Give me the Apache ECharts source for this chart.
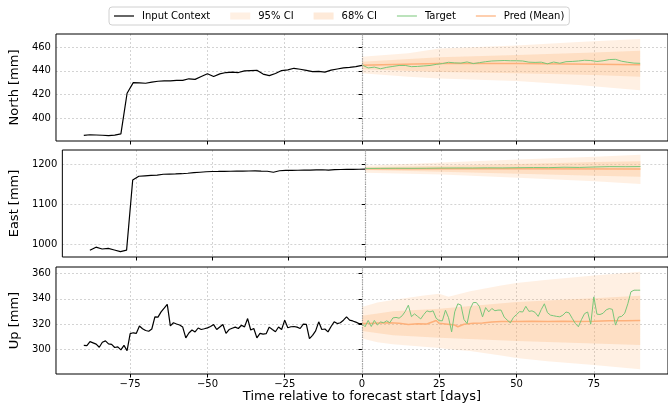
<!DOCTYPE html>
<html>
<head>
<meta charset="utf-8">
<script src="https://cdn.jsdelivr.net/npm/echarts@6.0.0/dist/echarts.min.js"></script>
<style>
  html, body { margin: 0; padding: 0; background: #fff; }
  #chart { width: 668px; height: 405px; }
</style>
</head>
<body>
<div id="chart"></div>
<script>
// ---- data ----
const xTicks = [-75, -50, -25, 0, 25, 50, 75];

function range(a, b, step) {
  const out = [];
  for (let v = a; v <= b; v += step) out.push(v);
  return out;
}
const ctxDays2 = range(-90, 0, 2);
const ctxDays1 = range(-90, 0, 1);
const tgtDays2 = range(0, 90, 2);
const tgtDays5 = range(0, 90, 5);
const tgtDays1 = range(0, 90, 1);

// North
const northCtx = [385.2, 385.8, 385.6, 385.4, 385.0, 385.5, 386.5, 421.0, 430.0, 429.8, 429.5, 430.5, 431.2, 431.5, 431.6, 432.0,
  432.0, 433.3, 432.8, 435.2, 437.6, 435.2, 437.5, 438.6, 439.0, 438.6, 440.0, 440.3, 440.5, 437.3, 436.0, 437.8, 440.3, 440.8,
  442.2, 441.4, 440.4, 439.4, 439.6, 438.9, 440.6, 441.6, 442.6, 443.0, 443.6, 444.7];
const northTgt = [445.0, 442.5, 443.2, 441.8, 443.0, 443.8, 444.6, 444.6, 443.6, 443.8, 444.2, 444.6, 445.5, 446.2, 447.3, 446.8,
  446.6, 447.6, 446.2, 447.0, 447.8, 448.4, 448.6, 448.8, 448.6, 448.6, 448.4, 447.4, 447.2, 447.4, 446.0, 447.5, 446.5, 447.8,
  448.0, 448.4, 449.0, 448.8, 448.0, 448.6, 449.6, 449.8, 448.2, 447.3, 446.6, 446.4];
const northMeanDays = [0, 10, 25, 50, 75, 90];
const northMean = [444.8, 445.5, 446.2, 446.2, 445.6, 445.2];
const north95Days = [0, 15, 25, 50, 70, 90];
const north95Hi = [452.0, 455.0, 459.0, 461.5, 464.5, 467.0];
const north95Lo = [437.9, 435.0, 433.5, 431.5, 428.0, 423.5];
const north68Days = [0, 25, 50, 75, 90];
const north68Hi = [447.8, 451.5, 453.5, 455.5, 457.0];
const north68Lo = [441.4, 439.0, 438.0, 436.5, 435.0];

// East
const eastCtx = [985, 992.5, 988, 989.5, 985.5, 981.5, 985, 1160, 1169.5, 1170.5, 1171.5, 1172.5, 1174.5, 1175, 1175.3, 1175.8,
  1177, 1178.3, 1179.5, 1180.7, 1181.3, 1181.5, 1181.8, 1182, 1182.3, 1182.5, 1182.6, 1182.7, 1182.3, 1182, 1179.5, 1183.2,
  1184, 1184.2, 1184.5, 1184.8, 1185, 1185.4, 1185.7, 1185, 1186, 1186.4, 1186.6, 1186.8, 1187, 1187.3];
const eastTgt = [1189, 1189.3, 1189.5, 1189.4, 1189.6, 1190, 1190.2, 1190.1, 1190.5, 1190.3, 1190.8, 1191.2, 1191, 1192,
  1191.5, 1192.6, 1193.5, 1193.3, 1193.6];
const eastMeanDays = [0, 45, 90];
const eastMean = [1188.5, 1188.3, 1187.5];
const east95Days = [0, 25, 50, 75, 90];
const east95Hi = [1196, 1204, 1211, 1218, 1223];
const east95Lo = [1178, 1174, 1166, 1157, 1150];
const east68Days = [0, 25, 50, 75, 90];
const east68Hi = [1192, 1196, 1200, 1205, 1207];
const east68Lo = [1185, 1181, 1176, 1171, 1168];

// Up
const upCtx = [303.0, 302.8, 306.0, 305.0, 304.0, 301.5, 305.5, 306.6, 304.2, 303.8, 301.3, 301.8, 299.4, 303.0, 298.8,
  312.4, 313.0, 312.6, 318.4, 316.2, 314.8, 314.2, 316.0, 325.6, 325.4, 329.6, 332.5, 335.6, 318.5, 321.0, 320.0, 319.2,
  317.5, 309.0, 312.8, 315.2, 313.7, 316.8, 315.6, 316.2, 316.9, 318.0, 319.5, 315.6, 317.6, 319.6, 312.5, 315.6, 316.6,
  317.5, 316.4, 319.0, 317.7, 324.3, 315.2, 316.4, 309.0, 312.5, 312.0, 312.3, 317.5, 315.6, 313.8, 317.6, 315.6, 323.0,
  317.0, 317.8, 318.0, 317.5, 316.4, 319.8, 319.6, 308.4, 311.0, 314.5, 321.7, 315.6, 316.0, 313.7, 318.0, 321.7, 320.3,
  321.0, 323.0, 325.6, 323.0, 322.4, 321.5, 320.3, 320.3];
const upTgt = [320.3, 317.8, 322.8, 318.0, 322.8, 319.2, 321.6, 321.0, 322.5, 321.0, 324.8, 325.2, 324.6, 326.5, 330.0,
  334.9, 325.8, 328.0, 326.0, 324.0, 327.5, 330.4, 329.6, 330.4, 324.5, 322.6, 322.5, 330.9, 325.0, 313.7, 329.6, 336.0,
  335.0, 323.5, 320.3, 332.0, 337.0, 337.0, 333.8, 325.6, 333.0, 329.6, 332.3, 330.5, 331.0, 331.0, 325.5, 323.0, 320.9,
  325.2, 327.5, 329.8, 329.5, 334.0, 330.0, 330.4, 329.2, 326.0, 331.5, 336.0, 329.0, 327.0, 326.5, 326.0, 325.7, 327.0,
  329.5, 328.8, 324.5, 320.5, 317.8, 323.4, 328.2, 329.5, 319.8, 341.5, 327.8, 327.5, 328.5, 331.2, 332.2, 331.6, 319.1,
  325.5, 326.0, 328.5, 336.0, 345.5, 346.8, 346.8, 346.8];
const upMeanDays = [0, 3, 6, 9, 12, 15, 18, 21, 24, 25, 27, 30, 31, 33, 36, 39, 42, 45, 50, 55, 60, 65, 70, 75, 80, 85, 90];
const upMean = [320.3, 320.5, 320.8, 321.0, 320.6, 319.5, 320.2, 320.0, 322.8, 320.5, 320.0, 319.2, 317.8, 319.8, 320.5,
  320.8, 321.5, 322.0, 322.0, 322.2, 322.0, 322.2, 322.0, 322.2, 322.5, 322.6, 322.8];
const up95Days = [0, 5, 10, 20, 25, 28, 35, 45, 50, 60, 75, 90];
const up95Hi = [333.5, 337.0, 339.0, 342.5, 344.0, 341.5, 346.0, 350.5, 352.5, 355.0, 358.5, 361.5];
const up95Lo = [308.5, 305.5, 304.0, 302.0, 301.0, 300.0, 298.5, 295.0, 293.0, 290.5, 287.5, 284.0];
const up68Days = [0, 10, 25, 50, 75, 90];
const up68Hi = [326.5, 330.0, 332.0, 337.5, 340.5, 342.3];
const up68Lo = [314.5, 311.0, 309.0, 306.5, 304.5, 303.3];

// ---- styles ----
const FONT = 'DejaVu Sans';
const C_CTX = '#000000';
const C_TGT = '#78c679';
const C_MEAN = '#fdb07a';
const C_95 = 'rgba(253,174,107,0.19)';
const C_68 = 'rgba(253,174,107,0.26)';

const panels = [
  { name: 'North [mm]', min: 380.5, max: 471.3, split: 5,
    ctxDays: ctxDays2, ctx: northCtx, tgtDays: tgtDays2, tgt: northTgt, meanDays: northMeanDays, mean: northMean,
    d95: north95Days, hi95: north95Hi, lo95: north95Lo, d68: north68Days, hi68: north68Hi, lo68: north68Lo },
  { name: 'East [mm]', min: 968, max: 1235, split: 3,
    ctxDays: ctxDays2, ctx: eastCtx, tgtDays: tgtDays5, tgt: eastTgt, meanDays: eastMeanDays, mean: eastMean,
    d95: east95Days, hi95: east95Hi, lo95: east95Lo, d68: east68Days, hi68: east68Hi, lo68: east68Lo },
  { name: 'Up [mm]', min: 280.3, max: 365.2, split: 5,
    ctxDays: ctxDays1, ctx: upCtx, tgtDays: tgtDays1, tgt: upTgt, meanDays: upMeanDays, mean: upMean,
    d95: up95Days, hi95: up95Hi, lo95: up95Lo, d68: up68Days, hi68: up68Hi, lo68: up68Lo }
];

const zip = (xs, ys) => xs.map((x, i) => [x, ys[i]]);
const minus = v => (v < 0 ? '\u2212' + Math.abs(v) : String(v));

// shaded interval drawn as one polygon through the axis scales
function bandSeries(i, name, days, lo, hi, color, z) {
  return {
    type: 'custom', name: name, xAxisIndex: i, yAxisIndex: i, silent: true, z: z, animation: false,
    itemStyle: { color: color },
    data: days.map((d, k) => [d, lo[k], hi[k]]),
    encode: { x: 0, y: [1, 2] },
    renderItem: function (params, api) {
      if (params.dataIndex !== 0) return null;
      const pts = [];
      days.forEach((d, k) => pts.push(api.coord([d, hi[k]])));
      for (let k = days.length - 1; k >= 0; k--) pts.push(api.coord([days[k], lo[k]]));
      return { type: 'polygon', shape: { points: pts }, style: { fill: color } };
    }
  };
}

const grids = [], xAxes = [], yAxes = [], series = [];
const tops = [34, 150, 267];

panels.forEach((p, i) => {
  grids.push({ left: 54, right: -1, top: tops[i], height: 107, show: true, borderColor: '#000', borderWidth: 1, z: 5 });
  xAxes.push({
    type: 'value', gridIndex: i, min: -99, max: 99,
    axisLine: { show: false },
    axisTick: { show: true, customValues: xTicks, length: 3.5, lineStyle: { color: '#000' } },
    axisLabel: { show: i === 2, customValues: xTicks, formatter: minus, fontSize: 10, color: '#000', fontFamily: FONT, margin: 5 },
    splitLine: { show: true, lineStyle: { color: '#c8c8c8', type: [2, 2], width: 0.8 } },
    name: i === 2 ? 'Time relative to forecast start [days]' : '',
    nameLocation: 'middle', nameGap: 16,
    nameTextStyle: { fontSize: 13, color: '#000', fontFamily: FONT }
  });
  yAxes.push({
    type: 'value', gridIndex: i, min: p.min, max: p.max, splitNumber: p.split,
    name: p.name, nameLocation: 'middle', nameGap: 30,
    nameTextStyle: { fontSize: 13, color: '#000', fontFamily: FONT },
    axisLine: { show: false },
    axisTick: { show: true, length: 3.5, lineStyle: { color: '#000' } },
    axisLabel: { fontSize: 10, color: '#000', fontFamily: FONT, margin: 5, showMinLabel: false, showMaxLabel: false,
      formatter: v => String(v) },
    splitLine: { show: true, showMinLine: false, showMaxLine: false, lineStyle: { color: '#c8c8c8', type: [2, 2], width: 0.8 } }
  });

  series.push(bandSeries(i, '95% CI', p.d95, p.lo95, p.hi95, C_95, 1));
  series.push(bandSeries(i, '68% CI', p.d68, p.lo68, p.hi68, C_68, 2));

  const common = { type: 'line', xAxisIndex: i, yAxisIndex: i, symbol: 'none', animation: false };
  series.push(Object.assign({}, common, { name: 'Pred (Mean)', data: zip(p.meanDays, p.mean),
    itemStyle: { color: C_MEAN }, lineStyle: { color: C_MEAN, width: 1.5 }, z: 3 }));
  series.push(Object.assign({}, common, { name: 'Target', data: zip(p.tgtDays, p.tgt),
    itemStyle: { color: C_TGT }, lineStyle: { color: C_TGT, width: 1 }, z: 4 }));
  series.push(Object.assign({}, common, { name: 'Input Context', data: zip(p.ctxDays, p.ctx),
    itemStyle: { color: C_CTX }, lineStyle: { color: C_CTX, width: 1.2 }, z: 4,
    markLine: { silent: true, symbol: 'none', label: { show: false }, animation: false,
      lineStyle: { color: '#999', type: 'dotted', width: 1.2 }, data: [{ xAxis: 0 }] } }));
});

const lineIcon = w => 'path://M0,0 L20,0 L20,' + w + ' L0,' + w + ' Z';

const chart = echarts.init(document.getElementById('chart'));
chart.setOption({
  animation: false,
  textStyle: { fontFamily: FONT },
  legend: {
    left: 109, top: 7,
    padding: [4, 5], itemGap: 20, itemWidth: 20, itemHeight: 7,
    borderColor: '#d0d0d0', borderWidth: 1, borderRadius: 3,
    textStyle: { fontSize: 10, color: '#000', fontFamily: FONT, padding: [0, 0, 0, 3] },
    data: [
      { name: 'Input Context', icon: lineIcon(1.2), itemStyle: { color: C_CTX } },
      { name: '95% CI', icon: 'rect', itemStyle: { color: C_95 } },
      { name: '68% CI', icon: 'rect', itemStyle: { color: C_68 } },
      { name: 'Target', icon: lineIcon(1), itemStyle: { color: C_TGT } },
      { name: 'Pred (Mean)', icon: lineIcon(1.2), itemStyle: { color: C_MEAN } }
    ]
  },
  grid: grids,
  xAxis: xAxes,
  yAxis: yAxes,
  series: series
});
</script>
</body>
</html>
